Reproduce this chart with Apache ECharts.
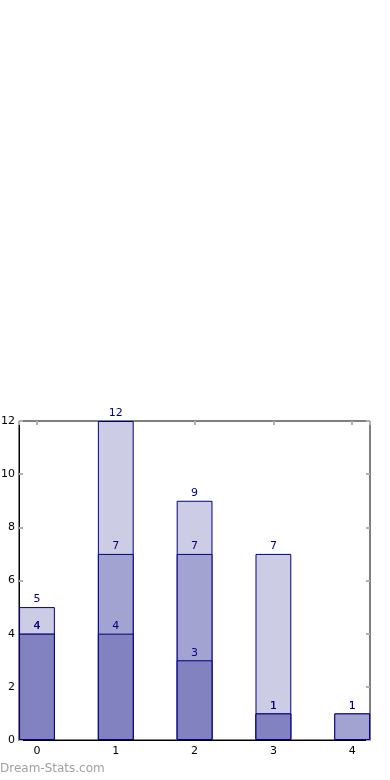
<!DOCTYPE html>
<html><head><meta charset="utf-8">
<script src="https://cdn.jsdelivr.net/npm/echarts@6/dist/echarts.min.js"></script>
<style>html,body{margin:0;padding:0;background:#fff}#c{width:390px;height:780px}</style>
</head><body><div id="c"></div>
<script>
var categories = [0, 1, 2, 3, 4];
var lightVals = [5, 12, 9, 7, 1];
var mediumVals = [4, 7, 7, 1, 1];
var darkVals = [4, 4, 3, 1, null];
var yTicks = [0, 2, 4, 6, 8, 10, 12];

function pairs(vals) {
  var out = [];
  for (var i = 0; i < categories.length; i++) {
    if (vals[i] !== null) out.push([categories[i], vals[i]]);
  }
  return out;
}
var font = 'DejaVu Sans';
var edge = '#000080';
function barSeries(vals, color) {
  return {
    type: 'bar', data: pairs(vals), barWidth: 35.8, barGap: '-100%',
    itemStyle: { color: color, borderColor: edge, borderWidth: 1 },
    label: { show: true, position: 'top', distance: 2, color: edge, fontFamily: font, fontSize: 11 },
    animation: false
  };
}
var chart = echarts.init(document.getElementById('c'), null, { renderer: 'canvas' });
var tickStyle = { show: true, inside: true, length: 4, lineStyle: { color: '#b0b0b0', width: 2 } };
chart.setOption({
  animation: false,
  grid: { left: 19, right: 20, top: 421, bottom: 40, containLabel: false, outerBoundsMode: 'none',
    show: true, borderColor: '#000', borderWidth: 1, backgroundColor: 'transparent' },
  xAxis: [{
    type: 'value', min: -0.228, max: 4.226, splitNumber: 5,
    axisLine: { show: true, onZero: false, lineStyle: { color: '#000' } },
    axisTick: tickStyle,
    splitLine: { show: false },
    axisLabel: { color: '#000', fontFamily: font, fontSize: 11, margin: 6, showMinLabel: false, showMaxLabel: false,
      formatter: function (v) { return Math.abs(v - Math.round(v)) < 1e-6 ? String(Math.round(v)) : ''; } }
  }, {
    type: 'value', position: 'top', min: -0.228, max: 4.226, splitNumber: 5,
    axisLine: { show: false, onZero: false }, axisTick: tickStyle, axisLabel: { show: false }, splitLine: { show: false }
  }],
  yAxis: [{
    type: 'value', min: yTicks[0], max: yTicks[yTicks.length - 1], interval: 2,
    axisLine: { show: true, onZero: false, lineStyle: { color: '#000' } },
    axisTick: tickStyle, splitLine: { show: false },
    axisLabel: { color: '#000', fontFamily: font, fontSize: 11, margin: 4 }
  }, {
    type: 'value', position: 'right', min: yTicks[0], max: yTicks[yTicks.length - 1], interval: 2,
    axisLine: { show: false, onZero: false }, axisTick: tickStyle, axisLabel: { show: false }, splitLine: { show: false }
  }],
  graphic: [{
    type: 'text', left: 0, top: 763,
    style: { text: 'Dream-Stats.com', fill: '#a0a0a0', font: '12px "DejaVu Sans"' }
  }],
  series: [
    barSeries(lightVals, '#ccccE5'),
    barSeries(mediumVals, '#a3a3d1'),
    barSeries(darkVals, '#8282c1')
  ]
});
</script></body></html>
